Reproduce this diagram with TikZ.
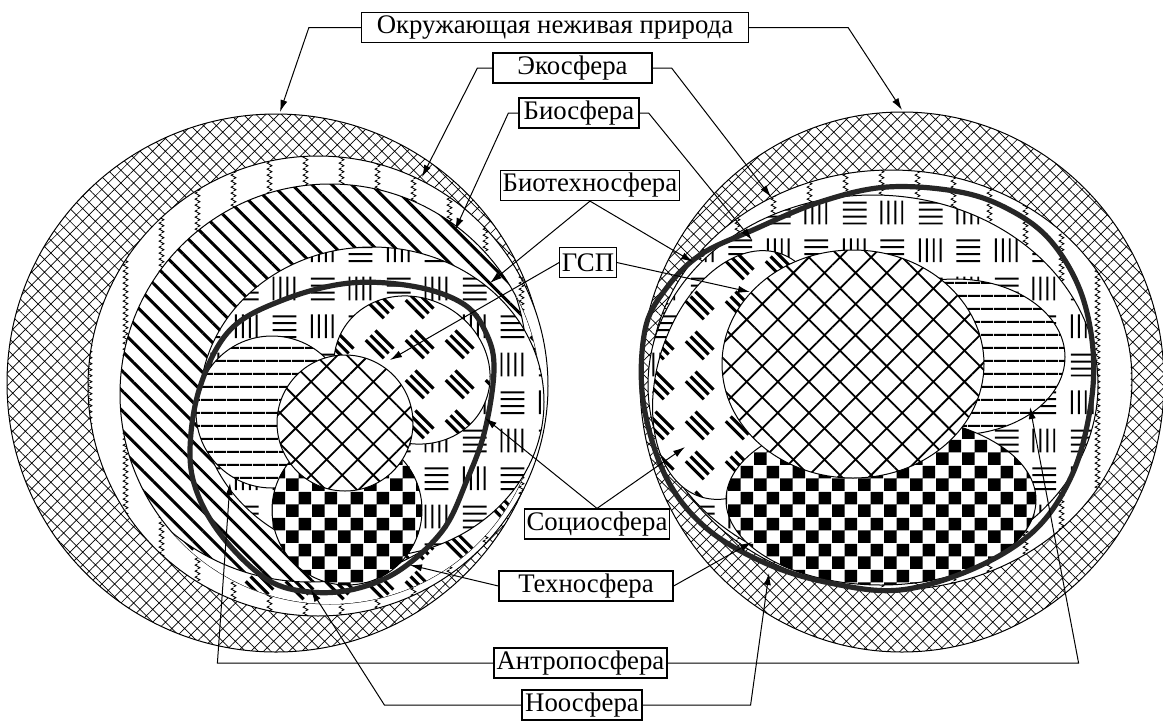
\documentclass[tikz,border=0pt]{standalone}
\usepackage{fontspec}
\setmainfont{Liberation Serif}
\usetikzlibrary{patterns.meta,arrows.meta}

% vertical zigzag strokes
\pgfdeclarepattern{
  name=zigzag, type=uncolored,
  bottom left={\pgfpoint{0pt}{0pt}}, top right={\pgfpoint{18pt}{3pt}},
  tile size={\pgfpoint{18pt}{3pt}},
  code={
    \pgfsetlinewidth{0.5pt}
    \pgfpathmoveto{\pgfpoint{9pt}{0pt}}
    \pgfpathlineto{\pgfpoint{10.2pt}{0.75pt}}
    \pgfpathlineto{\pgfpoint{7.8pt}{2.25pt}}
    \pgfpathlineto{\pgfpoint{9pt}{3pt}}
    \pgfusepath{stroke}
  }
}
% groups of short lines, turned by a quarter in turn
\pgfdeclarepattern{
  name=weave, type=uncolored,
  bottom left={\pgfpoint{0pt}{0pt}}, top right={\pgfpoint{38pt}{38pt}},
  tile size={\pgfpoint{38pt}{38pt}},
  code={
    \pgfsetlinewidth{1pt}
    \foreach \d in {4,7.5,11,14.5}{
      \pgfpathmoveto{\pgfpoint{\d pt}{3.5pt}}\pgfpathlineto{\pgfpoint{\d pt}{15.5pt}}
      \pgfpathmoveto{\pgfpoint{22.5pt}{\d pt}}\pgfpathlineto{\pgfpoint{34.5pt}{\d pt}}
      \pgfpathmoveto{\pgfpoint{3.5pt}{\d pt+19pt}}\pgfpathlineto{\pgfpoint{15.5pt}{\d pt+19pt}}
      \pgfpathmoveto{\pgfpoint{\d pt+19pt}{22.5pt}}\pgfpathlineto{\pgfpoint{\d pt+19pt}{34.5pt}}
      \pgfusepath{stroke}
    }
  }
}
% short thick slanted dashes
\pgfdeclarepattern{
  name=dashes, type=uncolored,
  bottom left={\pgfpoint{0pt}{0pt}}, top right={\pgfpoint{20pt}{20pt}},
  tile size={\pgfpoint{20pt}{20pt}},
  code={
    \pgfsetlinewidth{1.6pt}
    \foreach \i in {-1,0,1}{
      \pgfpathmoveto{\pgfpoint{10pt+2.47pt*\i-4.6pt}{10pt+2.47pt*\i+4.6pt}}
      \pgfpathlineto{\pgfpoint{10pt+2.47pt*\i+4.6pt}{10pt+2.47pt*\i-4.6pt}}
      \pgfusepath{stroke}
    }
  }
}
% checkerboard
\pgfdeclarepattern{
  name=checker, type=uncolored,
  bottom left={\pgfpoint{0pt}{0pt}}, top right={\pgfpoint{13pt}{13pt}},
  tile size={\pgfpoint{13pt}{13pt}},
  code={
    \pgfpathrectangle{\pgfpoint{0pt}{0pt}}{\pgfpoint{6.5pt}{6.5pt}}
    \pgfpathrectangle{\pgfpoint{6.5pt}{6.5pt}}{\pgfpoint{6.5pt}{6.5pt}}
    \pgfusepath{fill}
  }
}

\begin{document}
\begin{tikzpicture}[x=0.5pt,y=-0.5pt]
    \tikzset{
        zone/.style={draw, line width=0.5pt, preaction={fill=white}, pattern={#1}},
        hatchfine/.style={zone={Hatch[angle=45,distance=4.5pt,line width=0.35pt]}},
        hatchwide/.style={zone={Hatch[angle=45,distance=11pt,line width=0.9pt]}},
        diagfill/.style={zone={Lines[angle=-45,distance=7pt,line width=1.5pt]}},
        hlinefill/.style={zone={Lines[distance=6.5pt,line width=1pt]}},
        zigzagfill/.style={zone=zigzag},
        weavefill/.style={zone=weave},
        dashfill/.style={zone=dashes},
        checkfill/.style={zone=checker},
        rim/.style={line width=2.6pt, black!85},
        lbl/.style={draw, line width=0.6pt, fill=white, inner sep=1pt, minimum height=15pt, font=\fontsize{13.4}{15}\selectfont},
        conn/.style={line width=0.5pt, -{Latex[length=6pt,width=3.6pt]}}
    }
    \useasboundingbox (0,0) rectangle (1163,724);

    % left sphere
    \path[hatchfine] (276,383) circle[radius=269];
    \path[zigzagfill] (318,386) circle[radius=230];
    \path[diagfill] (330,394) circle[radius=210];
    \begin{scope}
        \clip (330,394) circle[radius=210];
        \fill[white, even odd rule] (330,394) circle[radius=212] (310,365) circle[radius=217];
        \fill[pattern=dashes, even odd rule] (330,394) circle[radius=212] (310,365) circle[radius=217];
        \draw[line width=0.5pt] (310,365) circle[radius=217];
    \end{scope}
    \path[weavefill] (372,402) ellipse[x radius=172, y radius=155];
    \path[hlinefill] (272,412) circle[radius=76];
    \path[checkfill] (347,510) circle[radius=75];
    \path[dashfill, rotate around={-30:(412,370)}] (412,370) ellipse[x radius=80, y radius=72];
    \path[hatchwide] (345,423) circle[radius=68];
    \draw[rim] plot[smooth cycle, tension=0.6] coordinates {
        (200,387) (230,330) (283,300) (350,283) (417,287) (465,305) (487,335)
        (494,370) (485,430) (467,480) (443,530) (400,570) (355,589) (310,592)
        (268,580) (225,540) (198,495) (190,450)};

    % right sphere
    \path[hatchfine] (902,382) ellipse[x radius=262, y radius=270];
    \path[zigzagfill] (891,380) ellipse[x radius=241, y radius=210];
    \path[weavefill] (873,385) ellipse[x radius=225, y radius=190];
    \path[dashfill, rotate around={-18:(740,375)}] (740,375) ellipse[x radius=82, y radius=128];
    \path[hlinefill] (955,357) ellipse[x radius=110, y radius=78];
    \path[checkfill] (881,500) ellipse[x radius=155, y radius=85];
    \path[hatchwide] (853,364) ellipse[x radius=131, y radius=114];
    \draw[rim] plot[smooth cycle, tension=0.6] coordinates {
        (643,400) (645,330) (665,290) (700,255) (753,230) (820,202) (887,187)
        (960,192) (1010,210) (1050,240) (1080,290) (1093,350) (1090,410)
        (1072,475) (1035,530) (975,568) (900,590) (830,583) (765,563)
        (705,527) (665,475)};

    % labels
    \node[lbl, minimum width=193.5pt] (okr) at (555,27.5) {Окружающая неживая природа};
    \node[lbl, minimum width=79.5pt] (eko) at (572.5,68) {Экосфера};
    \node[lbl, minimum width=60pt] (bio) at (579,113) {Биосфера};
    \node[lbl, minimum width=89pt] (bts) at (590,185.5) {Биотехносфера};
    \node[lbl, minimum width=28pt] (gsp) at (588,262.5) {ГСП};
    \node[lbl, minimum width=71pt] (soc) at (597,524) {Социосфера};
    \node[lbl, minimum width=87pt] (tech) at (586,586) {Техносфера};
    \node[lbl, minimum width=86.5pt] (antr) at (580.5,663) {Антропосфера};
    \node[lbl, minimum width=60pt] (noo) at (582,705) {Ноосфера};

    % arrow tips
    \coordinate (okrL) at (280,112);
    \coordinate (okrR) at (902,110);
    \coordinate (ekoL) at (422,177);
    \coordinate (ekoR) at (771,197);
    \coordinate (bioL) at (455,230);
    \coordinate (bioR) at (752,240);
    \coordinate (btsL) at (490,283);
    \coordinate (btsR) at (693,262);
    \coordinate (gspL) at (390,360);
    \coordinate (gspR) at (750,292);
    \coordinate (socL) at (485,418);
    \coordinate (socR) at (685,447);
    \coordinate (techL) at (410,565);
    \coordinate (techR) at (752,542);
    \coordinate (antrL) at (230,483);
    \coordinate (antrR) at (1030,407);
    \coordinate (nooL) at (311,590);
    \coordinate (nooR) at (769,573);

    \draw[conn] (okr.west) -- ++(-52,0) -- (okrL);
    \draw[conn] (okr.east) -- ++(99,0) -- (okrR);
    \draw[conn] (eko.west) -- ++(-15,0) -- (ekoL);
    \draw[conn] (eko.east) -- ++(19,0) -- (ekoR);
    \draw[conn] (bio.west) -- ++(-10,0) -- (bioL);
    \draw[conn] (bio.east) -- ++(9,0) -- (bioR);
    \draw[conn] (bts.south) -- (btsL);
    \draw[conn] (bts.south) -- (btsR);
    \draw[conn] (gsp.west) -- (gspL);
    \draw[conn] (gsp.east) -- (gspR);
    \draw[conn] (soc.north) -- (socL);
    \draw[conn] (soc.north) -- (socR);
    \draw[conn] (tech.west) -- (techL);
    \draw[conn] (tech.east) -- (techR);
    \draw[conn] (antr.west) -- ++(-276,0) -- (antrL);
    \draw[conn] (antr.east) -- ++(411,0) -- (antrR);
    \draw[conn] (noo.west) -- ++(-137,0) -- (nooL);
    \draw[conn] (noo.east) -- ++(108,0) -- (nooR);
\end{tikzpicture}
\end{document}
